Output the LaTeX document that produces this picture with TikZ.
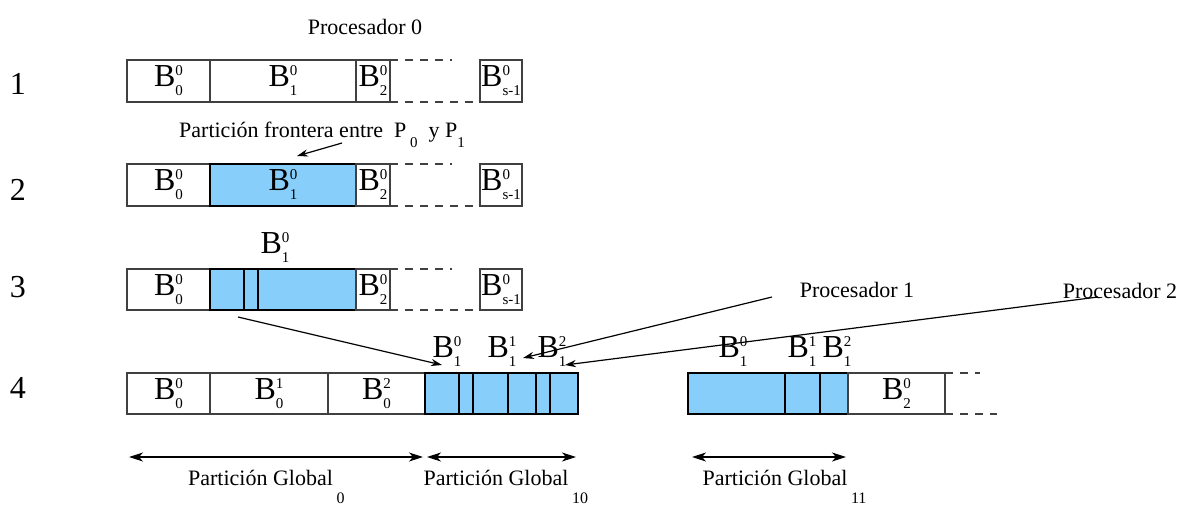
\documentclass[tikz,border=0pt]{standalone}
\usepackage{fontspec}
\setmainfont{Liberation Serif}
\usetikzlibrary{arrows.meta}
\definecolor{cellblue}{RGB}{135,206,250}
\newcommand{\Bsym}[2]{{\fontsize{16}{16}\selectfont B}\makebox[0pt][l]{\raisebox{5.5pt}{\fontsize{7.5}{7.5}\selectfont #1}}\raisebox{-4.5pt}{\fontsize{7.5}{7.5}\selectfont #2}}
\newcommand{\lowsub}[1]{\raisebox{-5pt}{\fontsize{7.5}{7.5}\selectfont #1}}
\newcommand{\globsub}[1]{\rlap{\,\raisebox{-9pt}{\fontsize{8}{8}\selectfont #1}}}
\begin{document}
\begin{tikzpicture}[x=0.5pt,y=-0.5pt,
  cell/.style={draw=black!75, line width=0.6pt},
  bcell/.style={draw=black, fill=cellblue, line width=0.7pt},
  bline/.style={draw=black, line width=0.8pt},
  dashline/.style={draw=black!75, line width=0.6pt, dash pattern=on 4pt off 3.5pt},
  arr/.style={-{Stealth[length=5.5pt,width=3.6pt]}, line width=0.6pt},
  darr/.style={{Stealth[length=7pt,width=4.5pt,inset=2pt]}-{Stealth[length=7pt,width=4.5pt,inset=2pt]}, line width=0.6pt},
  lbl/.style={font=\fontsize{11}{13}\selectfont, inner sep=0pt},
  num/.style={font=\fontsize{16}{16}\selectfont, inner sep=0pt},
  bl/.style={inner sep=0pt}]
\useasboundingbox (0,0) rectangle (1179,504);

% row numbers
\node[num] (n1) at (18,84) {1};
\node[num] (n2) at (18,190) {2};
\node[num] (n3) at (18,287) {3};
\node[num] (n4) at (18,388) {4};

% title
\node[lbl] (p0) at (365,27) {Procesador 0};

% ---------- row 1
\draw[cell] (127,60) rectangle (210,102);
\draw[cell] (210,60) rectangle (356,102);
\draw[cell] (356,60) rectangle (390,102);
\draw[cell] (480,60) rectangle (522,102);
\draw[dashline] (390,60) -- (452,60);
\draw[dashline] (390,102) -- (480,102);
\node[bl] (r1a) at (168.5,81) {\Bsym{0}{0}};
\node[bl] (r1b) at (283,81) {\Bsym{0}{1}};
\node[bl] (r1c) at (373,81) {\Bsym{0}{2}};
\node[bl] (r1d) at (501,81) {\Bsym{0}{s-1}};

% ---------- row 2
\node[lbl,anchor=base] (front) at (322,137) {Partición frontera entre\ \ P\,\lowsub{0}\ \ y P\lowsub{1}};
\draw[cell] (127,164) rectangle (210,206);
\draw[bcell] (210,164) rectangle (356,206);
\draw[cell] (356,164) rectangle (390,206);
\draw[cell] (480,164) rectangle (522,206);
\draw[dashline] (390,164) -- (452,164);
\draw[dashline] (390,206) -- (480,206);
\node[bl] (r2a) at (168.5,185) {\Bsym{0}{0}};
\node[bl] (r2b) at (283,185) {\Bsym{0}{1}};
\node[bl] (r2c) at (373,185) {\Bsym{0}{2}};
\node[bl] (r2d) at (501,185) {\Bsym{0}{s-1}};
\coordinate (f1) at (342,143);
\coordinate (f2) at (297,156);
\draw[arr] (f1) -- (f2);

% ---------- row 3
\node[bl] (r3top) at (275,248) {\Bsym{0}{1}};
\draw[cell] (127,269) rectangle (210,310);
\draw[bcell] (210,269) rectangle (356,310);
\draw[bline] (244,269) -- (244,310);
\draw[bline] (258,269) -- (258,310);
\draw[cell] (356,269) rectangle (390,310);
\draw[cell] (480,269) rectangle (522,310);
\draw[dashline] (390,269) -- (452,269);
\draw[dashline] (390,310) -- (480,310);
\node[bl] (r3a) at (168.5,289.5) {\Bsym{0}{0}};
\node[bl] (r3c) at (373,289.5) {\Bsym{0}{2}};
\node[bl] (r3d) at (501,289.5) {\Bsym{0}{s-1}};

% ---------- row 4 left
\draw[cell] (127,373) rectangle (210,414);
\draw[cell] (210,373) rectangle (328,414);
\draw[cell] (328,373) rectangle (425,414);
\draw[bcell] (425,373) rectangle (578,414);
\foreach \xx in {459,473,508,536,550} \draw[bline] (\xx,373) -- (\xx,414);
\node[bl] (r4a) at (168.5,393.5) {\Bsym{0}{0}};
\node[bl] (r4b) at (269,393.5) {\Bsym{1}{0}};
\node[bl] (r4c) at (376.5,393.5) {\Bsym{2}{0}};
\node[bl] (t40) at (447,352) {\Bsym{0}{1}};
\node[bl] (t41) at (502,352) {\Bsym{1}{1}};
\node[bl] (t42) at (552,352) {\Bsym{2}{1}};

% ---------- row 4 right
\draw[bcell] (688,373) rectangle (848,414);
\draw[bline] (785,373) -- (785,414);
\draw[bline] (820,373) -- (820,414);
\draw[cell] (848,373) rectangle (945,414);
\draw[dashline] (945,373) -- (980,373);
\draw[dashline] (945,414) -- (997,414);
\node[bl] (r4d) at (896.5,393.5) {\Bsym{0}{2}};
\node[bl] (u40) at (733,352) {\Bsym{0}{1}};
\node[bl] (u41) at (802,352) {\Bsym{1}{1}};
\node[bl] (u42) at (837,352) {\Bsym{2}{1}};

% processors
\node[lbl] (p1) at (857,290) {Procesador 1};
\node[lbl] (p2) at (1120,291) {Procesador 2};

% connectors
\coordinate (s3) at (238,317);
\coordinate (e3) at (442,365);
\draw[arr] (s3) -- (e3);
\coordinate (s1) at (772,297);
\coordinate (e1) at (523,358);
\draw[arr] (s1) -- (e1);
\coordinate (s2) at (1098,297);
\coordinate (e2) at (565,365);
\draw[arr] (s2) -- (e2);

% global partitions
\coordinate (g1a) at (129,457); \coordinate (g1b) at (423,457);
\coordinate (g2a) at (427,457); \coordinate (g2b) at (576,457);
\coordinate (g3a) at (692,457); \coordinate (g3b) at (846,457);
\draw[darr] (g1a) -- (g1b);
\draw[darr] (g2a) -- (g2b);
\draw[darr] (g3a) -- (g3b);
\node[lbl,anchor=base] (pg0) at (260.5,485) {Partición Global\globsub{0}};
\node[lbl,anchor=base] (pg10) at (496,485) {Partición Global\globsub{10}};
\node[lbl,anchor=base] (pg11) at (775,485) {Partición Global\globsub{11}};
\end{tikzpicture}
\end{document}
